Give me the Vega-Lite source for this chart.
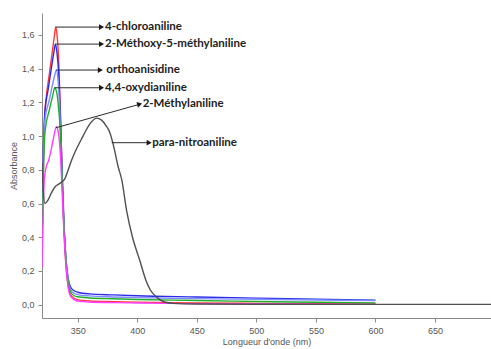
{
  "$schema": "https://vega.github.io/schema/vega-lite/v6.json",
  "width": 449,
  "height": 305,
  "autosize": {"type": "none"},
  "padding": {"left": 42, "top": 13, "right": 0, "bottom": 31},
  "background": "white",
  "config": {"view": {"stroke": null}, "font": "Liberation Sans"},
  "datasets": {
    "spectra": [
      {"compound": "4-chloroaniline", "wl": 320, "A": 0.30},
      {"compound": "4-chloroaniline", "wl": 321, "A": 0.72},
      {"compound": "4-chloroaniline", "wl": 322, "A": 1.08},
      {"compound": "4-chloroaniline", "wl": 323.4, "A": 1.22},
      {"compound": "4-chloroaniline", "wl": 326, "A": 1.36},
      {"compound": "4-chloroaniline", "wl": 329, "A": 1.52},
      {"compound": "4-chloroaniline", "wl": 330.5, "A": 1.60},
      {"compound": "4-chloroaniline", "wl": 331.5, "A": 1.647},
      {"compound": "4-chloroaniline", "wl": 332.5, "A": 1.61},
      {"compound": "4-chloroaniline", "wl": 334, "A": 1.45},
      {"compound": "4-chloroaniline", "wl": 335.5, "A": 1.13},
      {"compound": "4-chloroaniline", "wl": 337, "A": 0.74},
      {"compound": "4-chloroaniline", "wl": 338.5, "A": 0.44},
      {"compound": "4-chloroaniline", "wl": 340, "A": 0.24},
      {"compound": "4-chloroaniline", "wl": 342, "A": 0.11},
      {"compound": "4-chloroaniline", "wl": 344, "A": 0.06},
      {"compound": "4-chloroaniline", "wl": 347, "A": 0.038},
      {"compound": "4-chloroaniline", "wl": 350, "A": 0.03},
      {"compound": "4-chloroaniline", "wl": 360, "A": 0.022},
      {"compound": "4-chloroaniline", "wl": 380, "A": 0.018},
      {"compound": "4-chloroaniline", "wl": 400, "A": 0.015},
      {"compound": "4-chloroaniline", "wl": 450, "A": 0.011},
      {"compound": "4-chloroaniline", "wl": 500, "A": 0.008},
      {"compound": "4-chloroaniline", "wl": 550, "A": 0.006},
      {"compound": "4-chloroaniline", "wl": 600, "A": 0.005},

      {"compound": "2-Méthoxy-5-méthylaniline", "wl": 320, "A": 0.40},
      {"compound": "2-Méthoxy-5-méthylaniline", "wl": 321, "A": 0.85},
      {"compound": "2-Méthoxy-5-méthylaniline", "wl": 322.5, "A": 1.15},
      {"compound": "2-Méthoxy-5-méthylaniline", "wl": 325, "A": 1.27},
      {"compound": "2-Méthoxy-5-méthylaniline", "wl": 328, "A": 1.41},
      {"compound": "2-Méthoxy-5-méthylaniline", "wl": 330, "A": 1.50},
      {"compound": "2-Méthoxy-5-méthylaniline", "wl": 331.2, "A": 1.546},
      {"compound": "2-Méthoxy-5-méthylaniline", "wl": 332.5, "A": 1.50},
      {"compound": "2-Méthoxy-5-méthylaniline", "wl": 334, "A": 1.37},
      {"compound": "2-Méthoxy-5-méthylaniline", "wl": 335.5, "A": 1.11},
      {"compound": "2-Méthoxy-5-méthylaniline", "wl": 337, "A": 0.77},
      {"compound": "2-Méthoxy-5-méthylaniline", "wl": 338.5, "A": 0.48},
      {"compound": "2-Méthoxy-5-méthylaniline", "wl": 340, "A": 0.28},
      {"compound": "2-Méthoxy-5-méthylaniline", "wl": 342, "A": 0.155},
      {"compound": "2-Méthoxy-5-méthylaniline", "wl": 344, "A": 0.105},
      {"compound": "2-Méthoxy-5-méthylaniline", "wl": 347, "A": 0.083},
      {"compound": "2-Méthoxy-5-méthylaniline", "wl": 350, "A": 0.074},
      {"compound": "2-Méthoxy-5-méthylaniline", "wl": 360, "A": 0.064},
      {"compound": "2-Méthoxy-5-méthylaniline", "wl": 380, "A": 0.058},
      {"compound": "2-Méthoxy-5-méthylaniline", "wl": 400, "A": 0.053},
      {"compound": "2-Méthoxy-5-méthylaniline", "wl": 450, "A": 0.046},
      {"compound": "2-Méthoxy-5-méthylaniline", "wl": 500, "A": 0.039},
      {"compound": "2-Méthoxy-5-méthylaniline", "wl": 550, "A": 0.033},
      {"compound": "2-Méthoxy-5-méthylaniline", "wl": 600, "A": 0.027},

      {"compound": "orthoanisidine", "wl": 320, "A": 0.35},
      {"compound": "orthoanisidine", "wl": 321, "A": 0.80},
      {"compound": "orthoanisidine", "wl": 322.5, "A": 1.10},
      {"compound": "orthoanisidine", "wl": 326, "A": 1.21},
      {"compound": "orthoanisidine", "wl": 329, "A": 1.31},
      {"compound": "orthoanisidine", "wl": 331, "A": 1.37},
      {"compound": "orthoanisidine", "wl": 332, "A": 1.392},
      {"compound": "orthoanisidine", "wl": 333.5, "A": 1.33},
      {"compound": "orthoanisidine", "wl": 335, "A": 1.14},
      {"compound": "orthoanisidine", "wl": 336.5, "A": 0.84},
      {"compound": "orthoanisidine", "wl": 338, "A": 0.54},
      {"compound": "orthoanisidine", "wl": 340, "A": 0.29},
      {"compound": "orthoanisidine", "wl": 342, "A": 0.145},
      {"compound": "orthoanisidine", "wl": 344, "A": 0.09},
      {"compound": "orthoanisidine", "wl": 347, "A": 0.068},
      {"compound": "orthoanisidine", "wl": 350, "A": 0.06},
      {"compound": "orthoanisidine", "wl": 360, "A": 0.052},
      {"compound": "orthoanisidine", "wl": 380, "A": 0.046},
      {"compound": "orthoanisidine", "wl": 400, "A": 0.042},
      {"compound": "orthoanisidine", "wl": 450, "A": 0.036},
      {"compound": "orthoanisidine", "wl": 500, "A": 0.032},
      {"compound": "orthoanisidine", "wl": 550, "A": 0.028},
      {"compound": "orthoanisidine", "wl": 600, "A": 0.024},

      {"compound": "4,4-oxydianiline", "wl": 320, "A": 0.30},
      {"compound": "4,4-oxydianiline", "wl": 321, "A": 0.72},
      {"compound": "4,4-oxydianiline", "wl": 322, "A": 0.97},
      {"compound": "4,4-oxydianiline", "wl": 323, "A": 1.05},
      {"compound": "4,4-oxydianiline", "wl": 326, "A": 1.15},
      {"compound": "4,4-oxydianiline", "wl": 329, "A": 1.24},
      {"compound": "4,4-oxydianiline", "wl": 330.7, "A": 1.287},
      {"compound": "4,4-oxydianiline", "wl": 332, "A": 1.27},
      {"compound": "4,4-oxydianiline", "wl": 333.5, "A": 1.20},
      {"compound": "4,4-oxydianiline", "wl": 335, "A": 1.07},
      {"compound": "4,4-oxydianiline", "wl": 336.5, "A": 0.83},
      {"compound": "4,4-oxydianiline", "wl": 338, "A": 0.53},
      {"compound": "4,4-oxydianiline", "wl": 340, "A": 0.28},
      {"compound": "4,4-oxydianiline", "wl": 342, "A": 0.13},
      {"compound": "4,4-oxydianiline", "wl": 344, "A": 0.075},
      {"compound": "4,4-oxydianiline", "wl": 347, "A": 0.053},
      {"compound": "4,4-oxydianiline", "wl": 350, "A": 0.047},
      {"compound": "4,4-oxydianiline", "wl": 360, "A": 0.04},
      {"compound": "4,4-oxydianiline", "wl": 380, "A": 0.035},
      {"compound": "4,4-oxydianiline", "wl": 400, "A": 0.031},
      {"compound": "4,4-oxydianiline", "wl": 450, "A": 0.025},
      {"compound": "4,4-oxydianiline", "wl": 500, "A": 0.019},
      {"compound": "4,4-oxydianiline", "wl": 550, "A": 0.014},
      {"compound": "4,4-oxydianiline", "wl": 600, "A": 0.01},

      {"compound": "2-Méthylaniline", "wl": 320, "A": 0.22},
      {"compound": "2-Méthylaniline", "wl": 321, "A": 0.55},
      {"compound": "2-Méthylaniline", "wl": 322, "A": 0.75},
      {"compound": "2-Méthylaniline", "wl": 324, "A": 0.83},
      {"compound": "2-Méthylaniline", "wl": 325.3, "A": 0.85},
      {"compound": "2-Méthylaniline", "wl": 328, "A": 0.93},
      {"compound": "2-Méthylaniline", "wl": 330, "A": 1.00},
      {"compound": "2-Méthylaniline", "wl": 332, "A": 1.056},
      {"compound": "2-Méthylaniline", "wl": 333.5, "A": 1.03},
      {"compound": "2-Méthylaniline", "wl": 335, "A": 0.94},
      {"compound": "2-Méthylaniline", "wl": 336.5, "A": 0.74},
      {"compound": "2-Méthylaniline", "wl": 338, "A": 0.49},
      {"compound": "2-Méthylaniline", "wl": 340, "A": 0.25},
      {"compound": "2-Méthylaniline", "wl": 342, "A": 0.10},
      {"compound": "2-Méthylaniline", "wl": 344, "A": 0.05},
      {"compound": "2-Méthylaniline", "wl": 347, "A": 0.03},
      {"compound": "2-Méthylaniline", "wl": 350, "A": 0.022},
      {"compound": "2-Méthylaniline", "wl": 360, "A": 0.016},
      {"compound": "2-Méthylaniline", "wl": 380, "A": 0.012},
      {"compound": "2-Méthylaniline", "wl": 400, "A": 0.01},
      {"compound": "2-Méthylaniline", "wl": 450, "A": 0.006},
      {"compound": "2-Méthylaniline", "wl": 500, "A": 0.004},
      {"compound": "2-Méthylaniline", "wl": 550, "A": 0.003},
      {"compound": "2-Méthylaniline", "wl": 600, "A": 0.002},

      {"compound": "para-nitroaniline", "wl": 320, "A": 0.84},
      {"compound": "para-nitroaniline", "wl": 321, "A": 0.68},
      {"compound": "para-nitroaniline", "wl": 322.5, "A": 0.60},
      {"compound": "para-nitroaniline", "wl": 325, "A": 0.62},
      {"compound": "para-nitroaniline", "wl": 328, "A": 0.665},
      {"compound": "para-nitroaniline", "wl": 331, "A": 0.70},
      {"compound": "para-nitroaniline", "wl": 334, "A": 0.715},
      {"compound": "para-nitroaniline", "wl": 337, "A": 0.73},
      {"compound": "para-nitroaniline", "wl": 339, "A": 0.745},
      {"compound": "para-nitroaniline", "wl": 342, "A": 0.80},
      {"compound": "para-nitroaniline", "wl": 345, "A": 0.86},
      {"compound": "para-nitroaniline", "wl": 349, "A": 0.925},
      {"compound": "para-nitroaniline", "wl": 353, "A": 0.98},
      {"compound": "para-nitroaniline", "wl": 357, "A": 1.035},
      {"compound": "para-nitroaniline", "wl": 361, "A": 1.08},
      {"compound": "para-nitroaniline", "wl": 366, "A": 1.107},
      {"compound": "para-nitroaniline", "wl": 370, "A": 1.095},
      {"compound": "para-nitroaniline", "wl": 374, "A": 1.06},
      {"compound": "para-nitroaniline", "wl": 377, "A": 1.02},
      {"compound": "para-nitroaniline", "wl": 380, "A": 0.945},
      {"compound": "para-nitroaniline", "wl": 384, "A": 0.817},
      {"compound": "para-nitroaniline", "wl": 387, "A": 0.74},
      {"compound": "para-nitroaniline", "wl": 391, "A": 0.56},
      {"compound": "para-nitroaniline", "wl": 396, "A": 0.40},
      {"compound": "para-nitroaniline", "wl": 402, "A": 0.265},
      {"compound": "para-nitroaniline", "wl": 407, "A": 0.15},
      {"compound": "para-nitroaniline", "wl": 411, "A": 0.087},
      {"compound": "para-nitroaniline", "wl": 416, "A": 0.046},
      {"compound": "para-nitroaniline", "wl": 423, "A": 0.016},
      {"compound": "para-nitroaniline", "wl": 430, "A": 0.008},
      {"compound": "para-nitroaniline", "wl": 450, "A": 0.004},
      {"compound": "para-nitroaniline", "wl": 500, "A": 0.003},
      {"compound": "para-nitroaniline", "wl": 600, "A": 0.002},
      {"compound": "para-nitroaniline", "wl": 700, "A": 0.002}
    ],
    "arrows": [
      {"label": "4-chloroaniline", "wl": 331.5, "A": 1.647, "wl2": 370.0, "A2": 1.647},
      {"label": "2-Méthoxy-5-méthylaniline", "wl": 331.2, "A": 1.546, "wl2": 370.0, "A2": 1.546},
      {"label": "orthoanisidine", "wl": 332.0, "A": 1.392, "wl2": 369.0, "A2": 1.392},
      {"label": "4,4-oxydianiline", "wl": 330.7, "A": 1.287, "wl2": 370.0, "A2": 1.287},
      {"label": "2-Méthylaniline", "wl": 331.8, "A": 1.050, "wl2": 402.0, "A2": 1.189},
      {"label": "para-nitroaniline", "wl": 378.5, "A": 0.961, "wl2": 410.0, "A2": 0.961}
    ],
    "heads": [
      {"label": "4-chloroaniline", "wl": 370.0, "A": 1.647},
      {"label": "2-Méthoxy-5-méthylaniline", "wl": 370.0, "A": 1.546},
      {"label": "orthoanisidine", "wl": 369.0, "A": 1.392},
      {"label": "4,4-oxydianiline", "wl": 370.0, "A": 1.287},
      {"label": "2-Méthylaniline", "wl": 402.0, "A": 1.189},
      {"label": "para-nitroaniline", "wl": 410.0, "A": 0.961}
    ],
    "labels": [
      {"label": "4-chloroaniline", "wl": 373.0, "A": 1.647},
      {"label": "2-Méthoxy-5-méthylaniline", "wl": 373.0, "A": 1.546},
      {"label": "orthoanisidine", "wl": 374.0, "A": 1.392},
      {"label": "4,4-oxydianiline", "wl": 373.0, "A": 1.287},
      {"label": "2-Méthylaniline", "wl": 404.5, "A": 1.189},
      {"label": "para-nitroaniline", "wl": 412.5, "A": 0.961}
    ]
  },
  "encoding": {
    "x": {
      "field": "wl", "type": "quantitative",
      "scale": {"domain": [320, 697], "nice": false, "zero": false},
      "axis": {
        "values": [350, 400, 450, 500, 550, 600, 650],
        "title": "Longueur d'onde (nm)",
        "grid": false,
        "labelOverlap": false, "labelFlush": false,
        "domainColor": "#8a8a8a", "tickColor": "#8a8a8a",
        "tickSize": 4, "labelPadding": 4,
        "labelColor": "#555555", "labelFontSize": 9,
        "labelFont": "Liberation Sans Narrow, Liberation Sans",
        "titleFont": "Liberation Sans Narrow, Liberation Sans",
        "titleColor": "#555555", "titleFontSize": 9, "titleFontWeight": "normal",
        "titlePadding": 2
      }
    },
    "y": {
      "field": "A", "type": "quantitative",
      "scale": {"domain": [-0.079, 1.7305], "nice": false, "zero": false},
      "axis": {
        "values": [0, 0.2, 0.4, 0.6, 0.8, 1.0, 1.2, 1.4, 1.6],
        "labelExpr": "replace(format(datum.value, '.1f'), '.', ',')",
        "title": "Absorbance",
        "grid": false,
        "labelOverlap": false, "labelFlush": false,
        "domainColor": "#8a8a8a", "tickColor": "#8a8a8a",
        "tickSize": 4, "labelPadding": 4,
        "labelColor": "#555555", "labelFontSize": 9,
        "labelFont": "Liberation Sans Narrow, Liberation Sans",
        "titleFont": "Liberation Sans Narrow, Liberation Sans",
        "titleColor": "#555555", "titleFontSize": 9, "titleFontWeight": "normal",
        "titlePadding": 3
      }
    }
  },
  "layer": [
    {
      "data": {"name": "spectra"},
      "mark": {"type": "line", "strokeWidth": 1.4, "interpolate": "monotone", "clip": true},
      "encoding": {
        "color": {
          "field": "compound", "type": "nominal",
          "scale": {
            "domain": ["para-nitroaniline", "orthoanisidine", "2-Méthoxy-5-méthylaniline", "4,4-oxydianiline", "4-chloroaniline", "2-Méthylaniline"],
            "range": ["#505050", "#7f8cff", "#2b2bea", "#1fae2a", "#ff3b3b", "#ff3cff"]
          },
          "legend": null
        }
      }
    },
    {
      "data": {"values": [{}]},
      "mark": {"type": "rule", "color": "#8a8a8a", "strokeWidth": 1},
      "encoding": {
        "x": null,
        "y": {
          "datum": 1.7305, "type": "quantitative",
          "scale": {"domain": [-0.079, 1.7305], "nice": false, "zero": false},
          "axis": {
            "values": [0, 0.2, 0.4, 0.6, 0.8, 1.0, 1.2, 1.4, 1.6],
            "labelExpr": "replace(format(datum.value, '.1f'), '.', ',')",
            "title": "Absorbance",
            "grid": false,
            "labelOverlap": false, "labelFlush": false,
            "domainColor": "#8a8a8a", "tickColor": "#8a8a8a",
            "tickSize": 4, "labelPadding": 4,
            "labelColor": "#555555", "labelFontSize": 9,
            "labelFont": "Liberation Sans Narrow, Liberation Sans",
            "titleFont": "Liberation Sans Narrow, Liberation Sans",
            "titleColor": "#555555", "titleFontSize": 9, "titleFontWeight": "normal",
            "titlePadding": 3
          }
        }
      }
    },
    {
      "data": {"name": "arrows"},
      "mark": {"type": "rule", "color": "#2a2a2a", "strokeWidth": 1},
      "encoding": {
        "x2": {"field": "wl2"},
        "y2": {"field": "A2"}
      }
    },
    {
      "data": {"name": "heads"},
      "transform": [{"filter": "datum.label !== '2-Méthylaniline'"}],
      "mark": {"type": "point", "shape": "triangle-right", "filled": true, "size": 34, "color": "#1a1a1a", "opacity": 1}
    },
    {
      "data": {"name": "heads"},
      "transform": [{"filter": "datum.label === '2-Méthylaniline'"}],
      "mark": {"type": "point", "shape": "triangle-right", "filled": true, "size": 34, "color": "#1a1a1a", "opacity": 1, "angle": 345}
    },
    {
      "data": {"name": "labels"},
      "mark": {"type": "text", "align": "left", "baseline": "middle", "font": "Lato", "fontWeight": "bold", "fontSize": 11.5, "color": "#222222"},
      "encoding": {
        "text": {"field": "label"}
      }
    }
  ]
}
